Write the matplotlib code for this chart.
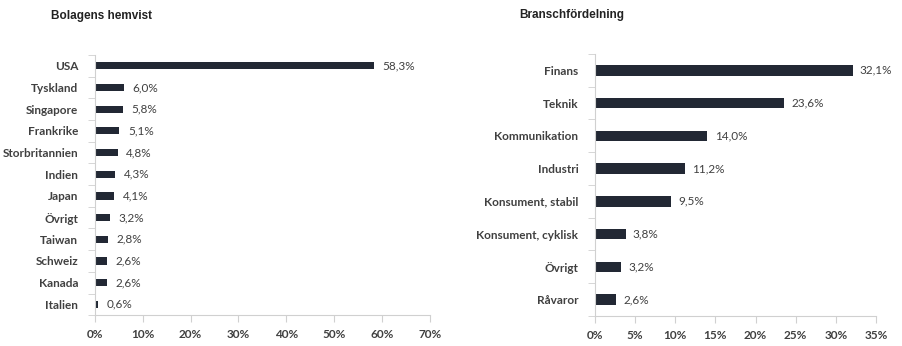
import matplotlib
matplotlib.use("Agg")
import matplotlib.pyplot as plt
import numpy as np

# data
countries = ["USA", "Tyskland", "Singapore", "Frankrike", "Storbritannien", "Indien",
             "Japan", "Övrigt", "Taiwan", "Schweiz", "Kanada", "Italien"]
country_vals = [58.3, 6.0, 5.8, 5.1, 4.8, 4.3, 4.1, 3.2, 2.8, 2.6, 2.6, 0.6]

sectors = ["Finans", "Teknik", "Kommunikation", "Industri", "Konsument, stabil",
           "Konsument, cyklisk", "Övrigt", "Råvaror"]
sector_vals = [32.1, 23.6, 14.0, 11.2, 9.5, 3.8, 3.2, 2.6]

bar_col = "#222834"
txt_col = "#404040"
line_col = "#d0d0d0"

plt.rcParams['font.family'] = ['Lato', 'DejaVu Sans']

fig = plt.figure(figsize=(9.03, 3.46), dpi=100)


def draw(ax, cats, vals, xmax, step, bh, off):
    n = len(cats)
    y = np.arange(n)
    ax.barh(y, vals, height=bh, color=bar_col)
    ax.set_ylim(n - 0.5, -0.5)
    ax.set_xlim(0, xmax)
    ax.set_yticks(y)
    ax.set_yticklabels(cats, fontsize=8.5, fontweight="bold", color=txt_col)
    ax.set_yticks(np.arange(-0.5, n, 1), minor=True)
    ax.tick_params(axis="y", which="major", length=0, pad=12)
    ax.tick_params(axis="y", which="minor", length=5, color=line_col, direction="out")
    xt = np.arange(0, xmax + 0.01, step)
    ax.set_xticks(xt)
    ax.set_xticklabels([f"{int(v)}%" for v in xt], fontsize=8.5, fontweight="bold", color=txt_col)
    ax.tick_params(axis="x", length=5, color=line_col, direction="out", pad=5)
    for s in ["top", "right"]:
        ax.spines[s].set_visible(False)
    for s in ["left", "bottom"]:
        ax.spines[s].set_color(line_col)
    for yi, v in zip(y, vals):
        ax.text(v + off, yi, f"{v:.1f}%".replace(".", ","), va="center", ha="left",
                fontsize=8.5, color=txt_col)


ax1 = fig.add_axes([0.105, 0.089, 0.371, 0.752])
draw(ax1, countries, country_vals, 70, 10, 0.33, 1.8)
ax1.set_title("Bolagens hemvist", fontsize=8.5, fontweight="bold", color="#222222",
              family=["Liberation Sans"], loc="left", x=-0.13, y=1.105)

ax2 = fig.add_axes([0.659, 0.087, 0.311, 0.757])
draw(ax2, sectors, sector_vals, 35, 5, 0.32, 0.9)
ax2.set_title("Branschfördelning", fontsize=8.5, fontweight="bold", color="#222222",
              family=["Liberation Sans"], loc="left", x=-0.27, y=1.105)

fig.savefig("out.png", dpi=100)
